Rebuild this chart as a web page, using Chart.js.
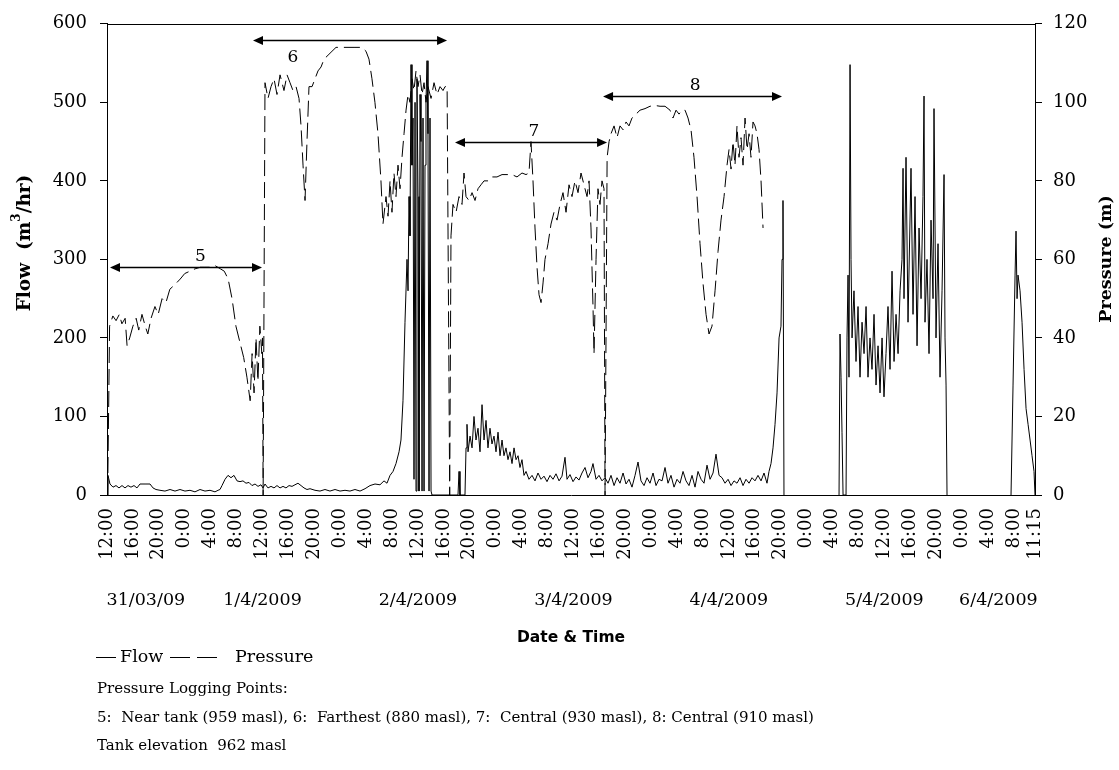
<!DOCTYPE html>
<html><head><meta charset="utf-8">
<script src="https://cdn.jsdelivr.net/npm/chart.js@4.4.0/dist/chart.umd.min.js"></script>
<style>html,body{margin:0;padding:0;background:#fff;}#wrap{width:1119px;height:770px;position:relative;}</style>
</head><body><div id="wrap"><canvas id="c" width="1119" height="770"></canvas></div>
<script>
// ---- data (hours since 31/03/09 12:00) ----
const flowHours = [0,0.15,0.46,0.93,1.39,1.85,2.32,2.78,3.24,3.70,4.17,4.63,5.09,5.87,6.64,7.10,7.56,8.18,8.95,9.73,10.50,11.27,12.04,12.81,13.58,14.36,15.13,15.90,16.67,17.14,17.44,17.75,18.22,18.68,19.14,19.60,20.07,20.53,20.99,21.46,21.92,22.38,22.85,23.31,23.77,24.08,24.39,24.85,25.32,25.78,26.24,26.71,27.17,27.63,28.10,28.56,29.02,29.48,29.95,30.41,30.87,31.34,32.11,32.88,33.65,34.42,35.20,35.97,36.74,37.51,38.28,39.06,39.83,40.60,41.37,42.14,42.76,43.22,43.69,44.15,44.61,45.08,45.38,45.69,46.00,46.31,46.47,46.62,46.77,46.93,47.08,47.24,47.39,47.55,47.70,47.85,48.01,48.16,48.32,48.47,48.63,48.78,48.94,49.09,49.24,49.40,49.55,49.71,49.86,50.02,50.17,54.18,54.34,54.49,55.26,55.42,55.57,55.73,56.04,56.35,56.65,56.96,57.27,57.58,57.89,58.20,58.51,58.81,59.12,59.43,59.74,60.05,60.36,60.67,60.98,61.28,61.59,61.90,62.21,62.52,62.83,63.14,63.45,63.75,64.06,64.37,64.68,65.14,65.61,66.07,66.53,67.00,67.46,67.92,68.39,68.85,69.31,69.78,70.24,70.70,71.01,71.47,71.94,72.40,72.86,73.32,73.79,74.25,74.71,75.02,75.49,75.95,76.41,76.88,77.34,77.80,78.27,78.73,79.19,79.66,80.12,80.58,81.04,81.51,81.97,82.43,82.90,83.36,83.82,84.29,84.75,85.21,85.68,86.14,86.60,87.06,87.53,87.99,88.45,88.92,89.38,89.84,90.31,90.77,91.23,91.70,92.16,92.62,93.09,93.55,94.01,94.48,94.94,95.40,95.87,96.33,96.79,97.25,97.72,98.18,98.64,99.11,99.57,100.03,100.49,100.96,101.42,101.88,102.19,102.50,102.81,103.12,103.43,103.74,104.04,104.20,104.35,104.50,105,113.00,113.15,113.31,113.46,113.62,114.08,114.23,114.39,114.54,114.70,114.85,115.01,115.31,115.62,115.93,116.24,116.55,116.86,117.17,117.47,117.78,118.09,118.40,118.71,119.02,119.33,119.64,119.94,120.25,120.56,120.87,121.18,121.49,121.80,122.11,122.42,122.72,122.88,123.03,123.34,123.65,124.11,124.42,124.73,125.04,125.35,125.66,125.96,126.12,126.27,126.58,126.89,127.20,127.51,127.66,127.97,128.28,128.59,128.90,129.21,129.36,129.52,129.67,130,139.55,139.86,140.17,140.32,140.48,140.63,140.94,141.25,141.56,141.87,142.18,142.49,142.79,143.10,143.25];
const flowValues = [0,25,14,10,12,9,12,9,12,10,12,9,14,14,14,9,7,6,5,7,5,7,5,6,4,7,5,6,4,6,7,12,20,25,22,25,18,17,18,15,16,12,14,11,13,9,14,9,11,9,12,9,11,9,12,11,13,15,12,9,7,8,6,5,7,5,7,5,6,5,7,5,8,12,14,13,18,15,25,30,40,55,70,120,220,300,260,380,330,548,420,480,20,500,5,530,380,5,510,450,5,480,5,420,500,553,460,5,480,5,0,0,30,0,0,60,90,55,75,60,100,70,85,55,115,70,95,60,85,65,75,55,80,50,70,50,60,45,55,40,60,45,50,35,45,25,30,20,25,18,28,20,24,17,25,20,27,18,24,48,20,26,17,23,19,28,35,22,30,40,20,25,18,22,15,25,12,22,15,28,14,20,10,25,42,18,12,22,15,28,12,20,18,35,15,25,10,20,15,30,18,12,25,10,30,20,15,38,20,28,52,25,22,15,20,12,18,15,22,12,20,15,22,18,25,18,28,15,30,40,60,90,130,200,215,300,375,0,null,0,205,150,80,0,0,200,280,150,548,300,200,260,170,240,150,220,180,240,150,200,160,230,140,190,130,200,125,180,240,160,285,170,230,180,260,300,416,250,430,220,416,230,380,190,340,250,380,508,220,300,180,350,250,492,200,320,150,260,408,200,140,0,null,0,140,280,336,250,280,260,220,160,110,90,70,50,30,0];
const pressureHours = [0.10,0.40,0.90,1.40,1.90,2.30,2.80,3.10,3.50,4.00,4.50,4.90,5.40,5.90,6.30,6.80,7.40,7.90,8.50,9.10,9.70,10.50,11.30,12.00,12.80,13.60,14.40,15.10,15.90,16.70,17.50,18.10,18.70,19.30,19.90,20.50,21.10,21.60,22.10,22.40,22.70,23.00,23.30,23.60,23.90,24.00,24.10,24.39,24.85,25.32,25.78,26.24,26.71,27.32,27.79,28.25,28.71,29.18,29.64,29.95,30.26,30.57,30.87,31.18,31.65,32.11,32.57,33.04,33.50,34.12,34.73,35.35,36.74,38.28,39.36,39.98,40.44,40.90,41.36,41.83,42.29,42.60,43.07,43.38,43.69,43.99,44.30,44.61,44.92,45.23,45.54,45.85,46.16,46.47,46.77,47.08,47.39,47.70,48.01,48.32,48.63,48.94,49.24,49.55,50.02,50.48,50.94,51.41,51.87,52.18,52.50,52.90,53.10,53.41,53.88,54.34,54.80,55.11,55.42,55.88,56.35,56.81,57.27,57.73,58.20,58.81,59.43,60.20,60.98,61.75,62.52,63.29,64.06,64.68,65.14,65.45,65.76,66.07,66.38,66.69,67.00,67.31,67.61,68.08,68.54,69.00,69.47,69.93,70.39,70.86,71.32,71.78,72.24,72.71,73.17,73.63,74.10,74.41,74.71,75.02,75.18,75.49,75.79,76.10,76.41,76.72,76.88,77.20,77.50,77.80,78.27,78.73,79.19,79.66,80.12,80.58,81.04,81.66,82.28,83.05,83.82,84.59,85.37,86.14,86.91,87.37,87.84,88.30,88.76,89.23,89.69,90.15,90.61,91.08,91.54,92.00,92.47,92.93,93.39,93.86,94.32,94.78,95.25,95.71,96.02,96.33,96.63,96.94,97.25,97.56,97.87,98.18,98.49,98.80,99.11,99.41,99.72,100.03,100.34,100.65,100.96,101.27];
const pressureValues = [0,43,45.6,44.4,46,43.6,45,38,40,43,45,42,46,43,41,45,48,46,50,49,52.4,53.6,55,56.4,57,57.6,58,58,58,58.4,57.6,57,55,50,43,39,35,30,24,36,26,40,29,43,36,40,0,105,101,104,106,102,107,103,107,105,103,104,101,94,84,75,90,104,104,106,108,109,111,112,113,114,114,114,114,113,111,106,100,92,80,69,76,71,80,72,82,76,84,78,86,92,98,102,100,106,103,108,104,107,102,105,100,104,101,105,102,104,103,104,104,0,66,74,72,76,74,82,76,75,77,75,78,79,80,80,81,81,81.6,81.6,81.6,81,82,81.6,82,90,80,68,58,51,49,54,60,64,69,72,70,74,77,72,79,76,80,77,82,79,76,80,68,48,36,60,78,74,80,78,0,86,90,92,94,91,94,93,95,94,96,97,98,98.4,99,99.2,99,99,98,96,98,97,98,98,96,93,86,76,64,54,46,41,43,52,62,70,76,84,88,83,90,84,94,86,91,84,96,88,92,86,95,94,92,88,80,68];

const xTickHours = [0,4,8,12,16,20,24,28,32,36,40,44,48,52,56,60,64,68,72,76,80,84,88,92,96,100,104,108,112,116,120,124,128,132,136,140,143.25];
const xTickLabels = ['12:00','16:00','20:00','0:00','4:00','8:00','12:00','16:00','20:00','0:00','4:00','8:00','12:00','16:00','20:00','0:00','4:00','8:00','12:00','16:00','20:00','0:00','4:00','8:00','12:00','16:00','20:00','0:00','4:00','8:00','12:00','16:00','20:00','0:00','4:00','8:00','11:15'];
const dateLabels = ['31/03/09','1/4/2009','2/4/2009','3/4/2009','4/4/2009','5/4/2009','6/4/2009'];
const dateCenterHours = [6,24,48,72,96,120,137.6];
const flowTicks = [0,100,200,300,400,500,600];
const pressureTicks = [0,20,40,60,80,100,120];

const segLabels = ['5','6','7','8'];
const segStartHours = [0.46,22.54,53.72,76.57];
const segEndHours = [23.93,52.49,77.19,104.2];
const segLevels = [290,580,450,508];
const segLabelHours = [14.4,28.7,65.9,90.8];
const segLabelBelow = [false,true,false,false];

const notes = ['Pressure Logging Points:',
  '5:  Near tank (959 masl), 6:  Farthest (880 masl), 7:  Central (930 masl), 8: Central (910 masl)',
  'Tank elevation  962 masl'];

const SERIF = '"DejaVu Serif", serif';

const extras = {
  id:'extras',
  afterDatasetsDraw(chart){
    const {ctx, chartArea:a, scales:{x, y}} = chart;
    ctx.save();
    ctx.strokeStyle='#000'; ctx.lineWidth=1;
    ctx.beginPath(); ctx.moveTo(a.left, Math.round(a.top)+0.5); ctx.lineTo(a.right, Math.round(a.top)+0.5); ctx.stroke();
    ctx.fillStyle='#000'; ctx.lineWidth=1.5;
    segLabels.forEach((lab,i)=>{
      const yy = Math.round(y.getPixelForValue(segLevels[i]))+0.5;
      const x1 = x.getPixelForValue(segStartHours[i]);
      const x2 = x.getPixelForValue(segEndHours[i]);
      ctx.beginPath(); ctx.moveTo(x1+6, yy); ctx.lineTo(x2-6, yy); ctx.stroke();
      ctx.beginPath(); ctx.moveTo(x1, yy); ctx.lineTo(x1+10, yy-4.5); ctx.lineTo(x1+10, yy+4.5); ctx.closePath(); ctx.fill();
      ctx.beginPath(); ctx.moveTo(x2, yy); ctx.lineTo(x2-10, yy-4.5); ctx.lineTo(x2-10, yy+4.5); ctx.closePath(); ctx.fill();
      ctx.font = '17px '+SERIF; ctx.textAlign='center';
      ctx.textBaseline = segLabelBelow[i] ? 'top' : 'bottom';
      ctx.fillText(lab, x.getPixelForValue(segLabelHours[i]), segLabelBelow[i] ? yy+9 : yy-2);
    });
    ctx.restore();
  },
  afterDraw(chart){
    const {ctx, chartArea:a, scales:{x}} = chart;
    ctx.save();
    ctx.fillStyle='#000'; ctx.strokeStyle='#000';
    ctx.save();
    ctx.translate(25, 243); ctx.rotate(-Math.PI/2);
    const fMain = 'bold 18.5px '+SERIF, fSup = 'bold 12px '+SERIF;
    const p1 = 'Flow  (m', p2 = '3', p3 = '/hr)';
    ctx.font=fMain; const w1=ctx.measureText(p1).width, w3=ctx.measureText(p3).width;
    ctx.font=fSup; const w2=ctx.measureText(p2).width;
    let sx = -(w1+w2+w3)/2;
    ctx.textBaseline='middle'; ctx.textAlign='left';
    ctx.font=fMain; ctx.fillText(p1, sx, 0); sx+=w1;
    ctx.font=fSup; ctx.fillText(p2, sx, -8); sx+=w2;
    ctx.font=fMain; ctx.fillText(p3, sx, 0);
    ctx.restore();
    ctx.save();
    ctx.translate(1106, 259); ctx.rotate(-Math.PI/2);
    ctx.font='bold 17.5px '+SERIF; ctx.textAlign='center'; ctx.textBaseline='middle';
    ctx.fillText('Pressure (m)', 0, 0);
    ctx.restore();
    ctx.font='17.5px '+SERIF; ctx.textAlign='center'; ctx.textBaseline='middle';
    dateLabels.forEach((d,i)=>ctx.fillText(d, x.getPixelForValue(dateCenterHours[i]), 600));
    ctx.font='bold 15.5px "DejaVu Sans", sans-serif';
    ctx.fillText('Date & Time', (a.left+a.right)/2, 638);
    const ly = 657.5;
    ctx.lineWidth=1;
    ctx.beginPath(); ctx.moveTo(96, ly); ctx.lineTo(116, ly); ctx.stroke();
    ctx.setLineDash([20,7]);
    ctx.beginPath(); ctx.moveTo(170, ly); ctx.lineTo(224, ly); ctx.stroke();
    ctx.setLineDash([]);
    ctx.font='17.5px '+SERIF; ctx.textAlign='left'; ctx.textBaseline='middle';
    ctx.fillText(chart.data.datasets[0].label, 120, ly);
    ctx.fillText(chart.data.datasets[1].label, 235, ly);
    ctx.font='15px '+SERIF; ctx.textBaseline='alphabetic';
    notes.forEach((t,i)=>ctx.fillText(t, 97, 693 + i*28.5));
    ctx.restore();
  }
};

const tickFont = {family:SERIF, size:18};
new Chart(document.getElementById('c'), {
  type:'line',
  data:{datasets:[
    {label:'Flow', data: flowHours.map((h,i)=>({x:h, y:flowValues[i]})), borderColor:'#000', borderWidth:1, pointRadius:0, tension:0, spanGaps:false, yAxisID:'y'},
    {label:'Pressure', data: pressureHours.map((h,i)=>({x:h, y:pressureValues[i]})), borderColor:'#000', borderWidth:1, borderDash:[16,6], pointRadius:0, tension:0, spanGaps:false, yAxisID:'y1'}
  ]},
  options:{
    responsive:false, animation:false, devicePixelRatio:1,
    layout:{padding:{left:0, right:0, top:16, bottom:195}},
    plugins:{legend:{display:false}, tooltip:{enabled:false}},
    scales:{
      x:{type:'linear', min:0, max:143.25,
        afterBuildTicks:s=>{ s.ticks = xTickHours.map(v=>({value:v})); },
        ticks:{autoSkip:false, minRotation:90, maxRotation:90, padding:13, color:'#000', font:tickFont,
          callback:(v)=>xTickLabels[xTickHours.indexOf(v)]},
        grid:{display:false, drawTicks:false}, border:{display:true, color:'#000', width:1},
        afterFit:s=>{ s.height = 80; }},
      y:{position:'left', min:0, max:600,
        afterBuildTicks:s=>{ s.ticks = flowTicks.map(v=>({value:v})); },
        ticks:{padding:13, color:'#000', font:tickFont},
        grid:{drawOnChartArea:false, tickLength:7, color:'#000'}, border:{display:true, color:'#000', width:1},
        afterFit:s=>{ s.width = 107; }},
      y1:{position:'right', min:0, max:120,
        afterBuildTicks:s=>{ s.ticks = pressureTicks.map(v=>({value:v})); },
        ticks:{padding:11, color:'#000', font:tickFont},
        grid:{drawOnChartArea:false, tickLength:7, color:'#000'}, border:{display:true, color:'#000', width:1},
        afterFit:s=>{ s.width = 84; }}
    }
  },
  plugins:[extras]
});
</script></body></html>
